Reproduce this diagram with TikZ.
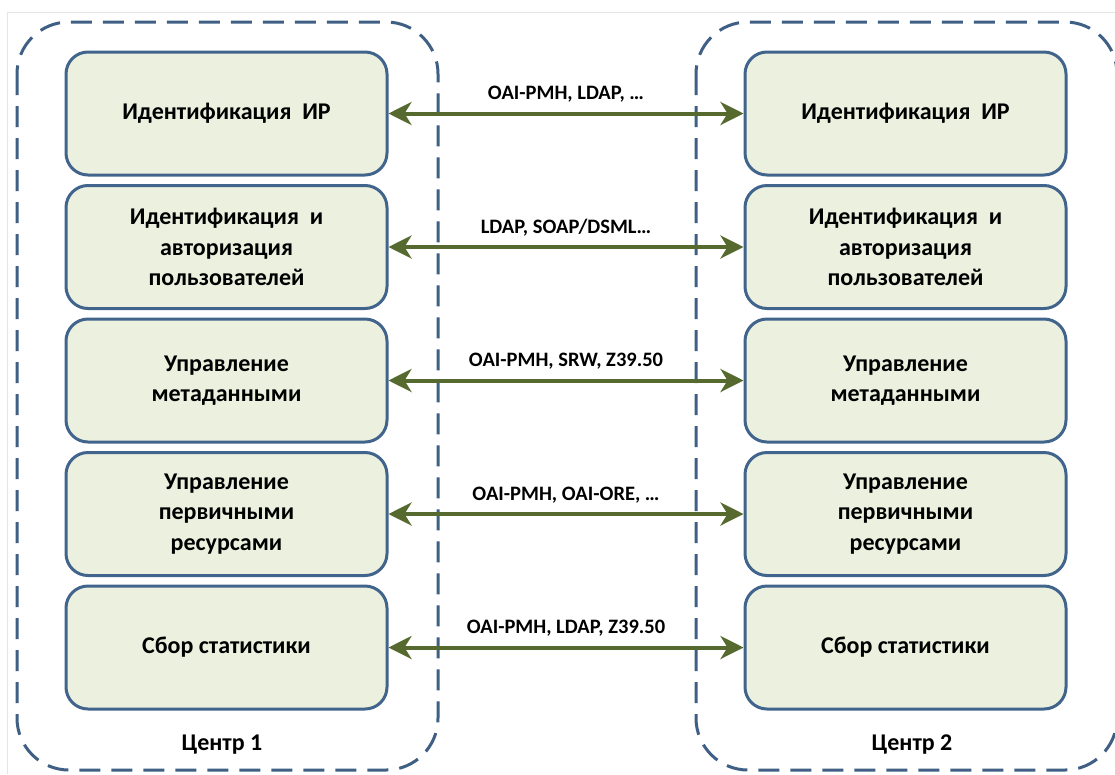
\documentclass[tikz,border=0pt]{standalone}
\usepackage{fontspec}
\setmainfont{Carlito}
\usetikzlibrary{arrows.meta}
\definecolor{boxfill}{HTML}{EBF0DF}
\definecolor{boxline}{HTML}{41648C}
\definecolor{dashline}{HTML}{3F5F85}
\definecolor{arrowc}{HTML}{56692E}
\begin{document}
\begin{tikzpicture}[x=1pt,y=-1pt,
  func/.style={draw=boxline, line width=3pt, fill=boxfill, rounded corners=22pt,
    minimum width=321pt, minimum height=123pt, align=center, inner sep=0pt,
    font=\bfseries\fontsize{24}{30.5}\selectfont},
  link/.style={draw=arrowc, line width=4pt,
    {Stealth[length=23pt,width=23pt,inset=7pt]}-{Stealth[length=23pt,width=23pt,inset=7pt]}},
  proto/.style={font=\bfseries\fontsize{20.5}{24}\selectfont, anchor=base, inner sep=0pt, yshift=14pt},
  ctrlabel/.style={font=\bfseries\fontsize{24}{28}\selectfont, anchor=base, inner sep=0pt},
  frame/.style={draw=dashline, line width=3pt, dash pattern=on 21pt off 11pt, rounded corners=52pt}
]
\useasboundingbox (0,0) rectangle (1115,774);
\clip (0,0) rectangle (1115,774);
\fill[white] (0,0) rectangle (1115,774);
\draw[black!10, line width=1pt] (7,774) -- (7,12) -- (1115,12);

\draw[frame] (17,22) rectangle (438,770);
\draw[frame] (696,22) rectangle (1117,770);

\node[func] (l1) at (226.5,113.5) {Идентификация\ \ ИР};
\node[func] (l2) at (226.5,247) {Идентификация\ \ и\\авторизация\\пользователей};
\node[func] (l3) at (226.5,380.5) {Управление\\метаданными};
\node[func] (l4) at (226.5,514) {Управление\\первичными\\ресурсами};
\node[func] (l5) at (226.5,647.5) {Сбор статистики};

\node[func] (r1) at (905.5,113.5) {Идентификация\ \ ИР};
\node[func] (r2) at (905.5,247) {Идентификация\ \ и\\авторизация\\пользователей};
\node[func] (r3) at (905.5,380.5) {Управление\\метаданными};
\node[func] (r4) at (905.5,514) {Управление\\первичными\\ресурсами};
\node[func] (r5) at (905.5,647.5) {Сбор статистики};

\draw[link] (l1.east) -- node[proto] (p1) {OAI-PMH, LDAP, \dots} (r1.west);
\draw[link] (l2.east) -- node[proto] (p2) {LDAP, SOAP/DSML\dots} (r2.west);
\draw[link] (l3.east) -- node[proto] (p3) {OAI-PMH, SRW, Z39.50} (r3.west);
\draw[link] (l4.east) -- node[proto] (p4) {OAI-PMH, OAI-ORE, \dots} (r4.west);
\draw[link] (l5.east) -- node[proto] (p5) {OAI-PMH, LDAP, Z39.50} (r5.west);

\node[ctrlabel] (c1) at (222,750) {Центр 1};
\node[ctrlabel] (c2) at (912,750) {Центр 2};
\end{tikzpicture}
\end{document}
